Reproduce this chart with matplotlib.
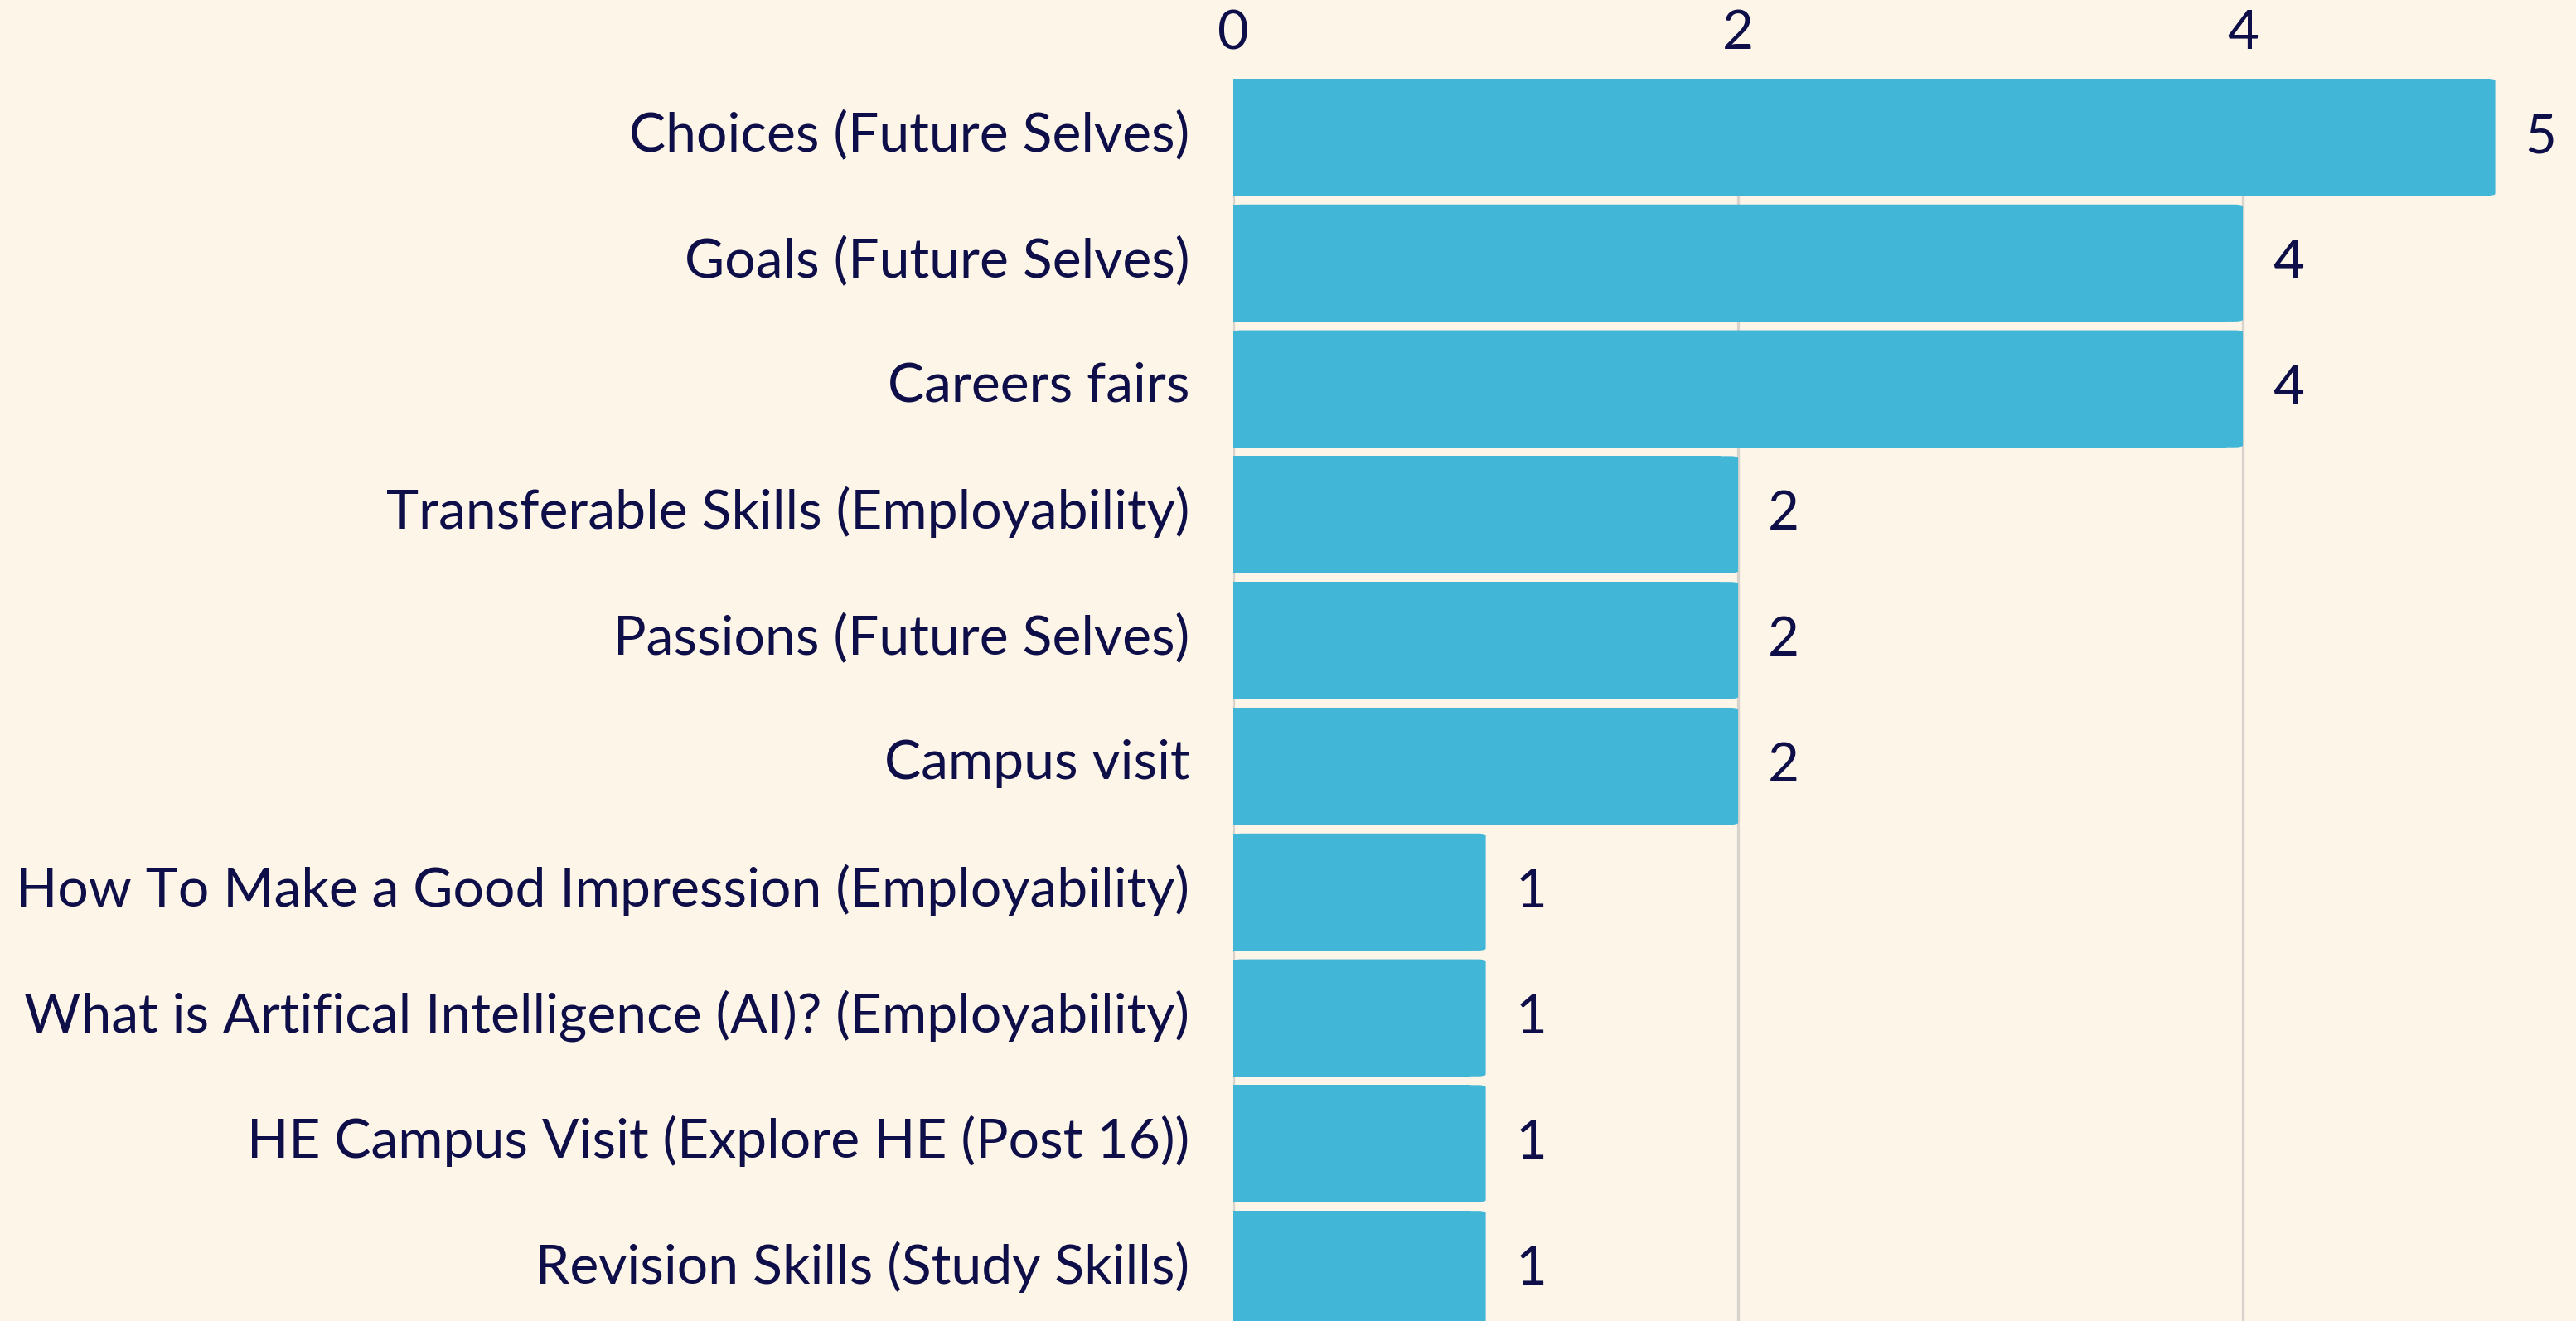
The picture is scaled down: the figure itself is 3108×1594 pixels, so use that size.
import matplotlib
matplotlib.use("Agg")
import matplotlib.pyplot as plt
import matplotlib.transforms as mtransforms
from matplotlib.patches import FancyBboxPatch

categories = [
    "Choices (Future Selves)",
    "Goals (Future Selves)",
    "Careers fairs",
    "Transferable Skills (Employability)",
    "Passions (Future Selves)",
    "Campus visit",
    "How To Make a Good Impression (Employability)",
    "What is Artifical Intelligence (AI)? (Employability)",
    "HE Campus Visit (Explore HE (Post 16))",
    "Revision Skills (Study Skills)",
]
counts = [5, 4, 4, 2, 2, 2, 1, 1, 1, 1]
x_ticks = [0, 2, 4]

bg = "#fef5e9"
bar_color = "#42b6d6"
text_color = "#0e0e48"
grid_color = "#d8d3cc"

plt.rcParams["font.family"] = ["Lato", "DejaVu Sans"]

fig = plt.figure(figsize=(15.54, 7.97), dpi=200, facecolor=bg)
ax = fig.add_axes([0.4788, 0.0, 0.5212, 0.9404])
ax.set_facecolor(bg)

ax.set_xlim(0, 5.32)
ax.set_ylim(9.41, -0.4645)

bar_h = 0.93
ys = list(range(len(categories)))

# figure out how round corners should look in data units
px_x = ax.transData.transform((1, 0))[0] - ax.transData.transform((0, 0))[0]
px_y = abs(ax.transData.transform((0, 1))[1] - ax.transData.transform((0, 0))[1])
r_px = 10
rx = r_px / px_x
aspect = px_x / px_y

for y, v in zip(ys, counts):
    # square left part, rounded right end
    ax.barh(y, v - 2 * rx, height=bar_h, left=0, color=bar_color, zorder=2,
            linewidth=0, antialiased=False)
    box = FancyBboxPatch((0, y - bar_h / 2), v, bar_h,
                         boxstyle="round,pad=0,rounding_size=%f" % rx,
                         mutation_aspect=1 / aspect,
                         facecolor=bar_color, edgecolor="none", zorder=2)
    ax.add_patch(box)
    ax.annotate(str(v), (v, y), xytext=(13, 0), textcoords="offset points",
                ha="left", va="center", fontsize=23.5, color=text_color)

ax.set_yticks(ys)
ax.set_yticklabels(categories)
ax.set_xticks(x_ticks)
ax.xaxis.tick_top()
ax.tick_params(axis="y", length=0, pad=19, labelsize=23.8, labelcolor=text_color)
ax.tick_params(axis="x", length=0, pad=9, labelsize=23.5, labelcolor=text_color)
ax.grid(axis="x", color=grid_color, linewidth=1.2, zorder=0)
ax.set_axisbelow(True)
for s in ax.spines.values():
    s.set_visible(False)

# nudge category labels up a little
shift = mtransforms.ScaledTranslation(0, 3 / 72, fig.dpi_scale_trans)
for lbl in ax.get_yticklabels():
    lbl.set_transform(lbl.get_transform() + shift)

fig.savefig("out.png", dpi=200, facecolor=bg)
